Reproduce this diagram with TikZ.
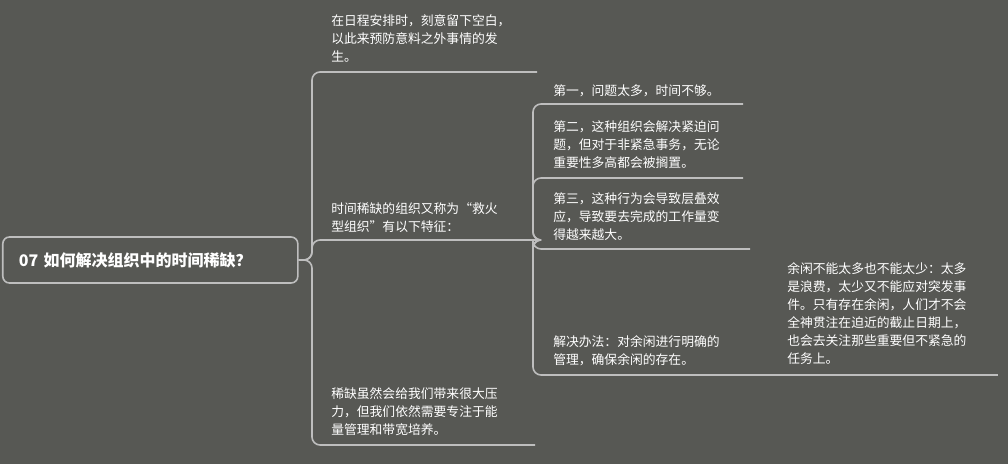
\documentclass[tikz,border=0pt]{standalone}
\usepackage{fontspec}
\newfontfamily\cjk{Noto Sans CJK SC}
\definecolor{bg}{RGB}{87,88,84}
\definecolor{ln}{RGB}{190,190,190}
\begin{document}
\begin{tikzpicture}[x=0.75pt,y=-0.75pt,
  conn/.style={draw=ln,line width=1.2pt,rounded corners=6pt},
  txt/.style={anchor=north west,inner sep=0pt,text=white,align=left,font=\cjk\fontsize{9.6pt}{13.6pt}\selectfont}]
\fill[bg] (0,0) rectangle (1008,464);
\useasboundingbox (0,0) rectangle (1008,464);
\node[draw=ln,line width=1.2pt,rounded corners=5pt,minimum width=295*0.75pt,minimum height=46*0.75pt,text=white,font=\cjk\bfseries\fontsize{12pt}{14pt}\selectfont,anchor=west,inner xsep=12pt,text width=295*0.75pt-24pt,align=left] (root) at (2,260) {07 如何解决组织中的时间稀缺？};
\coordinate (j) at (312,260);
\node[txt] (b1) at (331,14) {在日程安排时，刻意留下空白，\\以此来预防意料之外事情的发\\生。};
\node[txt] (b2) at (331,202) {时间稀缺的组织又称为“救火\\型组织”有以下特征：};
\node[txt] (b3) at (331,387) {稀缺虽然会给我们带来很大压\\力，但我们依然需要专注于能\\量管理和带宽培养。};
\coordinate (u1) at (537,72);
\coordinate (u2) at (535,240);
\coordinate (u3) at (535,445);
\draw[conn] (root.east) -- (j) |- (u1);
\draw[conn] (root.east) -- (j) |- (u2);
\draw[conn] (root.east) -- (j) |- (u3);
\node[txt] (s1) at (553,84) {第一，问题太多，时间不够。};
\node[txt] (s2) at (553,120) {第二，这种组织会解决紧迫问\\题，但对于非紧急事务，无论\\重要性多高都会被搁置。};
\node[txt] (s3) at (553,192) {第三，这种行为会导致层叠效\\应，导致要去完成的工作量变\\得越来越大。};
\node[txt] (s4) at (553,335) {解决办法：对余闲进行明确的\\管理，确保余闲的存在。};
\coordinate (v1) at (743,104);
\coordinate (v2) at (743,178);
\coordinate (v3) at (750,249);
\coordinate (v4) at (750,375);
\draw[conn] (u2) -- (533,240) |- (v1);
\draw[conn] (u2) -- (533,240) |- (v2);
\draw[conn] (u2) -- (533,240) |- (v3);
\draw[conn] (u2) -- (533,240) |- (v4);
\node[txt] (c1) at (787,262) {余闲不能太多也不能太少：太多\\是浪费，太少又不能应对突发事\\件。只有存在余闲，人们才不会\\全神贯注在迫近的截止日期上，\\也会去关注那些重要但不紧急的\\任务上。};
\coordinate (w1) at (998,375);
\draw[conn] (v4) -- (w1);
\end{tikzpicture}
\end{document}
